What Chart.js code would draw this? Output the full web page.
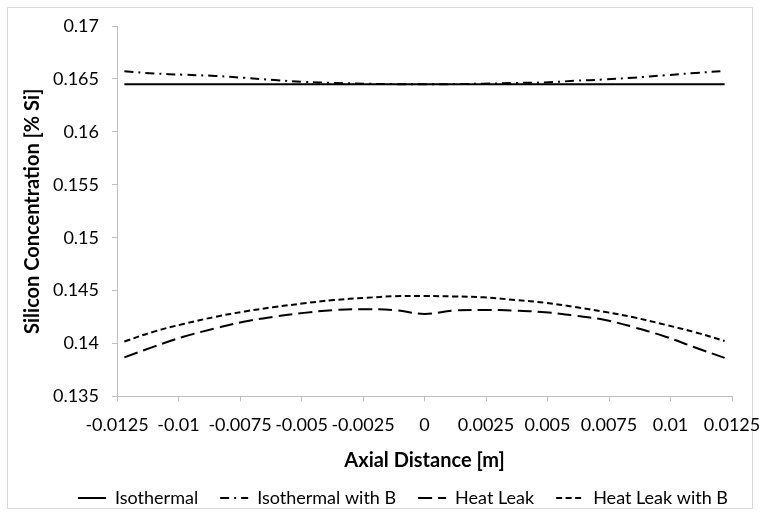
<!DOCTYPE html>
<html>
<head>
<meta charset="utf-8">
<title>Silicon Concentration</title>
<script src="https://cdn.jsdelivr.net/npm/chart.js@4.4.0/dist/chart.umd.min.js"></script>
<style>
    html, body { margin: 0; padding: 0; background: #fff; }
    canvas { display: block; }
</style>
</head>
<body>
<canvas id="siChart" width="760" height="516"></canvas>
<script>
// Data
const axialDistance = [-0.0122, -0.011, -0.0098, -0.0085, -0.0073, -0.0061, -0.0049, -0.0037, -0.0024, -0.0012, 0,
    0.0012, 0.0024, 0.0037, 0.0049, 0.0061, 0.0073, 0.0085, 0.0098, 0.011, 0.0122];

const isothermal = [0.1645, 0.1645, 0.1645, 0.1645, 0.1645, 0.1645, 0.1645, 0.1645, 0.1645, 0.1645, 0.1645,
    0.1645, 0.1645, 0.1645, 0.1645, 0.1645, 0.1645, 0.1645, 0.1645, 0.1645, 0.1645];

const isothermalWithB = [0.16572, 0.16552, 0.16540, 0.16528, 0.16510, 0.16490, 0.16472, 0.16462, 0.16455, 0.16451, 0.16450,
    0.16451, 0.16455, 0.16462, 0.16467, 0.16482, 0.16495, 0.16512, 0.16535, 0.16556, 0.16576];

const heatLeak = [0.13870, 0.13971, 0.14064, 0.14144, 0.14209, 0.14254, 0.14290, 0.14316, 0.14325, 0.14315, 0.14280,
    0.14312, 0.14318, 0.14311, 0.14296, 0.14264, 0.14225, 0.14155, 0.14065, 0.13963, 0.13865];

const heatLeakWithB = [0.14020, 0.14113, 0.14185, 0.14253, 0.14304, 0.14345, 0.14380, 0.14411, 0.14432, 0.14447, 0.14449,
    0.14445, 0.14437, 0.14411, 0.14386, 0.14346, 0.14301, 0.14248, 0.14177, 0.14107, 0.14025];

const xTickLabels = ['-0.0125', '-0.01', '-0.0075', '-0.005', '-0.0025', '0', '0.0025', '0.005', '0.0075', '0.01', '0.0125'];
const yTickLabels = ['0.135', '0.14', '0.145', '0.15', '0.155', '0.16', '0.165', '0.17'];

const FONT = "Lato, 'Open Sans', sans-serif";
const AXIS_GREY = '#bfbfbf';

// Pair up x and y arrays for the scatter datasets
function points(ys) {
    return axialDistance.map((x, i) => ({ x: x, y: ys[i] }));
}

function lineSet(label, ys, dash) {
    return {
        label: label,
        data: points(ys),
        showLine: true,
        borderColor: '#000',
        backgroundColor: '#000',
        borderWidth: 2,
        borderDash: dash,
        pointRadius: 0,
        pointHoverRadius: 0,
        pointStyle: 'line',
        tension: 0.4,
        fill: false
    };
}

// Thin frame around the whole chart, like the spreadsheet chart area
const chartFrame = {
    id: 'chartFrame',
    beforeDraw(chart) {
        const ctx = chart.ctx;
        ctx.save();
        ctx.fillStyle = '#fff';
        ctx.fillRect(0, 0, chart.width, chart.height);
        ctx.strokeStyle = '#d9d9d9';
        ctx.lineWidth = 1;
        ctx.strokeRect(7.5, 7.5, 745, 501);
        ctx.restore();
    }
};

const ctx = document.getElementById('siChart').getContext('2d');
new Chart(ctx, {
    type: 'scatter',
    data: {
        datasets: [
            lineSet('Isothermal', isothermal, []),
            lineSet('Isothermal with B', isothermalWithB, [9, 5, 2, 5]),
            lineSet('Heat Leak', heatLeak, [14, 6]),
            lineSet('Heat Leak with B', heatLeakWithB, [6, 3.5])
        ]
    },
    options: {
        responsive: false,
        animation: false,
        layout: {
            // left padding mostly serves to centre the legend like the original
            padding: { left: 46, right: 0, top: 26, bottom: 0 }
        },
        scales: {
            x: {
                type: 'linear',
                min: -0.0125,
                max: 0.0125,
                afterFit: (scale) => {
                    scale.height = 70.5;
                    scale.paddingRight = 28;
                },
                grid: {
                    drawOnChartArea: false,
                    drawTicks: true,
                    tickLength: 5,
                    color: AXIS_GREY
                },
                border: { display: true, color: AXIS_GREY, width: 1 },
                ticks: {
                    stepSize: 0.0025,
                    autoSkip: false,
                    maxRotation: 0,
                    minRotation: 0,
                    padding: 13,
                    color: '#000',
                    font: { family: FONT, size: 18 },
                    callback: (value, index) => xTickLabels[index]
                },
                title: {
                    display: true,
                    text: 'Axial Distance [m]',
                    color: '#000',
                    font: { family: FONT, size: 20, weight: 'bold' },
                    padding: { top: 0, bottom: -6 }
                }
            },
            y: {
                type: 'linear',
                min: 0.135,
                max: 0.17,
                afterFit: (scale) => { scale.width = 71; },
                grid: {
                    drawOnChartArea: false,
                    drawTicks: true,
                    tickLength: 5,
                    color: AXIS_GREY
                },
                border: { display: true, color: AXIS_GREY, width: 1 },
                ticks: {
                    stepSize: 0.005,
                    padding: 13,
                    color: '#000',
                    font: { family: FONT, size: 18 },
                    callback: (value, index) => yTickLabels[index]
                },
                title: {
                    display: true,
                    text: 'Silicon Concentration [% Si]',
                    color: '#000',
                    font: { family: FONT, size: 20, weight: 'bold' },
                    padding: { top: -25, bottom: 0 }
                }
            }
        },
        plugins: {
            legend: {
                position: 'bottom',
                maxHeight: 49,
                labels: {
                    usePointStyle: true,
                    pointStyle: 'line',
                    pointStyleWidth: 28,
                    boxWidth: 28,
                    padding: 22,
                    color: '#000',
                    font: { family: FONT, size: 18 },
                    // point-style items lose the dataset dash, so put it back
                    generateLabels: (chart) => {
                        const items = Chart.defaults.plugins.legend.labels.generateLabels(chart);
                        items.forEach(item => {
                            const ds = chart.data.datasets[item.datasetIndex];
                            item.lineDash = ds.borderDash;
                            item.lineWidth = 2;
                            item.strokeStyle = '#000';
                        });
                        return items;
                    }
                }
            },
            tooltip: { enabled: false }
        }
    },
    plugins: [chartFrame]
});
</script>
</body>
</html>
